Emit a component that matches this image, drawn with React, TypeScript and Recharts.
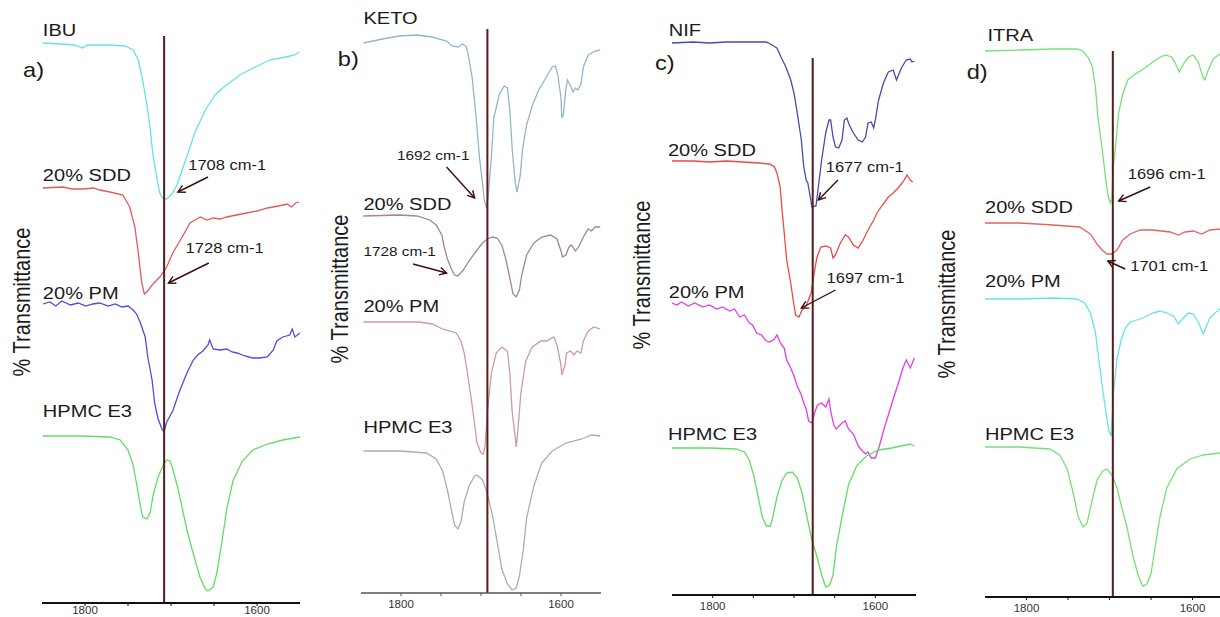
import React from "react";
import { LineChart, Line, XAxis, YAxis, ReferenceLine, ReferenceDot } from "recharts";

type Pt = [number, number];

const WAVE_DOMAIN: [number, number] = [1550, 1850];
const TICKS = [1800, 1750, 1700, 1650, 1600];
const TICK_LABELS = [1800, 1600];
const Y_TITLE = "% Transmittance";

// a) IBU
const ibuA: Pt[] = [
  [1849, 56.0], [1829, 55.9], [1812, 55.8], [1803, 55.5], [1797, 55.8], [1771, 55.8], [1753, 55.7],
  [1744, 55.3], [1738, 54.3], [1733, 52.3], [1728, 49.8], [1724, 47.3], [1721, 44.8], [1717, 42.8],
  [1713, 41.0], [1709, 40.4], [1705, 40.4], [1699, 40.9], [1693, 41.8], [1687, 43.3], [1681, 44.8],
  [1672, 47.1], [1660, 49.3], [1649, 50.8], [1637, 51.7], [1620, 52.8], [1602, 53.6], [1585, 54.3],
  [1567, 54.6], [1556, 54.8], [1551, 55.1],
];
const sddA: Pt[] = [
  [1849, 41.5], [1826, 41.6], [1815, 41.4], [1802, 41.4], [1790, 41.5], [1783, 41.3], [1771, 41.1],
  [1756, 40.8], [1748, 39.6], [1742, 37.6], [1738, 35.0], [1734, 32.0], [1731, 30.9], [1728, 31.1],
  [1722, 31.8], [1713, 32.6], [1705, 33.6], [1698, 35.0], [1687, 36.6], [1678, 38.0], [1666, 38.6],
  [1658, 38.3], [1651, 38.5], [1643, 38.4], [1635, 38.6], [1624, 38.8], [1612, 39.0], [1600, 39.2],
  [1588, 39.5], [1575, 39.7], [1565, 39.9], [1560, 39.6], [1555, 40.0], [1551, 40.1],
];
const pmA: Pt[] = [
  [1849, 29.9], [1841, 30.1], [1834, 29.7], [1827, 30.2], [1817, 29.8], [1808, 30.0], [1799, 29.7],
  [1791, 29.9], [1783, 30.0], [1773, 29.7], [1765, 29.9], [1757, 29.6], [1750, 29.7], [1744, 29.3],
  [1740, 28.9], [1736, 28.1], [1730, 26.6], [1727, 24.6], [1722, 22.3], [1719, 20.0], [1715, 18.4],
  [1710, 17.3], [1708, 17.1], [1705, 18.1], [1698, 19.2], [1690, 21.2], [1681, 23.1], [1674, 24.3],
  [1669, 24.8], [1663, 25.2], [1657, 25.8], [1655, 26.3], [1651, 25.4], [1643, 25.3], [1635, 25.4],
  [1629, 25.1], [1623, 25.0], [1614, 24.7], [1605, 24.5], [1597, 24.5], [1588, 24.6], [1581, 25.3],
  [1577, 26.2], [1570, 26.6], [1562, 26.8], [1559, 27.4], [1556, 26.6], [1550, 27.0],
];
const hpmcA: Pt[] = [
  [1849, 16.7], [1806, 16.7], [1771, 16.6], [1759, 16.3], [1750, 15.3], [1744, 13.8], [1740, 11.9],
  [1736, 9.9], [1733, 8.6], [1728, 8.4], [1724, 9.1], [1721, 10.7], [1715, 12.6], [1709, 13.8],
  [1705, 14.3], [1701, 14.2], [1698, 13.4], [1692, 11.5], [1686, 9.1], [1680, 6.8], [1674, 4.9],
  [1666, 2.5], [1660, 1.4], [1657, 1.2], [1651, 1.6], [1647, 2.9], [1641, 6.0], [1635, 9.5],
  [1628, 12.2], [1617, 14.2], [1605, 15.3], [1588, 15.9], [1570, 16.3], [1550, 16.6],
];

// b) KETO
const ketoB: Pt[] = [
  [1847, 55.0], [1823, 55.4], [1802, 55.7], [1780, 55.8], [1761, 55.6], [1743, 55.2], [1736, 54.7],
  [1729, 54.6], [1723, 54.9], [1718, 54.6], [1715, 53.4], [1711, 51.5], [1706, 47.5], [1702, 43.6],
  [1698, 40.9], [1696, 39.3], [1693, 38.5], [1691, 39.7], [1687, 43.6], [1684, 47.5], [1677, 49.9],
  [1671, 50.7], [1667, 50.5], [1664, 48.3], [1661, 44.4], [1657, 40.9], [1655, 40.1], [1651, 41.7],
  [1648, 44.4], [1643, 46.8], [1636, 48.7], [1628, 50.3], [1619, 51.5], [1611, 52.6], [1607, 52.7],
  [1604, 51.8], [1600, 49.5], [1599, 47.5], [1597, 47.9], [1594, 50.3], [1592, 51.3], [1588, 50.7],
  [1585, 50.1], [1582, 50.5], [1579, 50.3], [1575, 50.9], [1572, 52.6], [1566, 53.8], [1557, 54.2],
  [1551, 54.3],
];
const sddB: Pt[] = [
  [1847, 37.7], [1802, 37.8], [1780, 37.7], [1764, 37.3], [1756, 36.8], [1749, 35.8], [1746, 34.6],
  [1742, 33.4], [1737, 32.4], [1733, 31.8], [1729, 31.7], [1723, 32.2], [1715, 33.2], [1706, 34.2],
  [1698, 35.0], [1692, 35.4], [1686, 35.6], [1680, 35.5], [1674, 34.8], [1669, 33.4], [1664, 31.5],
  [1660, 29.9], [1656, 29.6], [1652, 30.3], [1649, 31.8], [1643, 33.8], [1634, 35.0], [1624, 35.6],
  [1613, 35.8], [1605, 35.4], [1600, 34.2], [1598, 33.6], [1594, 33.8], [1590, 34.6], [1587, 34.8],
  [1582, 34.2], [1578, 34.6], [1572, 35.6], [1566, 36.4], [1562, 36.2], [1557, 36.6], [1551, 36.6],
];
const pmB: Pt[] = [
  [1847, 27.1], [1802, 27.1], [1777, 27.1], [1761, 26.9], [1748, 26.4], [1739, 26.2], [1731, 26.0],
  [1725, 25.2], [1721, 24.0], [1717, 22.0], [1712, 19.3], [1708, 16.9], [1705, 15.0], [1700, 14.0],
  [1697, 13.9], [1695, 14.6], [1692, 18.1], [1687, 22.0], [1681, 24.0], [1674, 24.6], [1667, 24.2],
  [1664, 22.0], [1661, 18.1], [1657, 15.4], [1656, 14.6], [1654, 16.2], [1650, 20.1], [1644, 23.2],
  [1636, 24.6], [1625, 25.2], [1618, 25.2], [1609, 25.6], [1605, 24.8], [1600, 22.8], [1599, 21.8],
  [1595, 22.8], [1593, 24.0], [1588, 24.2], [1584, 23.8], [1580, 24.2], [1575, 24.0], [1572, 25.2],
  [1566, 26.2], [1559, 26.6], [1551, 26.4],
];
const hpmcB: Pt[] = [
  [1847, 14.2], [1802, 14.2], [1768, 14.0], [1756, 13.4], [1748, 12.2], [1742, 10.3], [1737, 8.3],
  [1733, 6.8], [1729, 6.4], [1725, 7.1], [1721, 9.1], [1715, 10.7], [1708, 11.7], [1705, 11.8],
  [1698, 11.3], [1692, 9.9], [1686, 7.9], [1680, 5.2], [1674, 2.4], [1667, 0.9], [1661, 0.3],
  [1656, 0.5], [1652, 1.7], [1647, 4.4], [1643, 7.5], [1634, 10.7], [1624, 13.0], [1611, 14.2],
  [1594, 15.0], [1574, 15.4], [1562, 15.8], [1551, 15.7],
];

// c) NIF
const nifC: Pt[] = [
  [1850, 55.2], [1824, 55.3], [1804, 55.2], [1783, 55.3], [1763, 55.3], [1734, 55.3], [1727, 55.0],
  [1721, 54.7], [1716, 53.8], [1710, 52.8], [1704, 51.5], [1700, 50.2], [1696, 48.2], [1691, 45.5],
  [1688, 42.8], [1685, 41.5], [1683, 41.2], [1680, 39.8], [1678, 38.8], [1673, 38.9], [1671, 40.2],
  [1666, 43.5], [1661, 46.2], [1657, 47.5], [1655, 47.5], [1652, 45.8], [1649, 44.8], [1645, 44.7],
  [1641, 45.5], [1638, 47.5], [1635, 47.7], [1632, 47.0], [1627, 46.2], [1621, 45.5], [1616, 45.3],
  [1612, 45.8], [1609, 47.2], [1605, 47.3], [1602, 46.7], [1600, 47.5], [1596, 49.5], [1590, 51.2],
  [1584, 52.3], [1578, 52.5], [1574, 51.5], [1568, 52.7], [1562, 53.5], [1557, 53.6], [1555, 53.3],
  [1552, 53.4],
];
const sddC: Pt[] = [
  [1850, 43.4], [1824, 43.4], [1804, 43.3], [1783, 43.4], [1763, 43.3], [1743, 43.2], [1730, 43.1],
  [1724, 42.8], [1721, 42.2], [1717, 40.8], [1715, 38.8], [1712, 36.2], [1709, 33.5], [1704, 31.2],
  [1701, 29.5], [1698, 28.0], [1694, 27.8], [1690, 28.5], [1685, 28.9], [1679, 30.2], [1676, 31.8],
  [1672, 33.7], [1667, 34.8], [1661, 34.9], [1655, 34.7], [1652, 33.7], [1649, 34.0], [1643, 35.2],
  [1637, 36.0], [1633, 35.8], [1627, 35.0], [1621, 34.7], [1615, 35.5], [1609, 36.5], [1602, 37.5],
  [1598, 38.2], [1593, 38.8], [1584, 39.8], [1578, 40.2], [1572, 40.7], [1566, 41.3], [1561, 42.0],
  [1557, 41.5], [1554, 41.3],
];
const pmC: Pt[] = [
  [1850, 29.2], [1844, 29.0], [1838, 29.3], [1830, 28.9], [1822, 29.2], [1812, 28.8], [1804, 29.0],
  [1795, 28.6], [1788, 28.8], [1779, 28.4], [1773, 28.6], [1767, 27.8], [1761, 28.0], [1755, 27.2],
  [1751, 27.0], [1746, 26.2], [1740, 26.0], [1734, 25.4], [1730, 25.3], [1724, 25.6], [1721, 26.0],
  [1716, 25.1], [1712, 24.7], [1709, 23.5], [1704, 22.7], [1700, 21.9], [1696, 20.9], [1691, 20.0],
  [1688, 19.2], [1685, 18.6], [1682, 17.4], [1678, 17.2], [1674, 18.4], [1671, 19.0], [1666, 19.2],
  [1661, 18.8], [1657, 19.6], [1655, 18.4], [1651, 17.0], [1648, 16.6], [1641, 17.2], [1637, 17.4],
  [1633, 16.6], [1627, 16.1], [1621, 14.9], [1617, 14.5], [1612, 14.1], [1609, 14.3], [1605, 13.7],
  [1600, 13.7], [1595, 14.9], [1590, 16.4], [1584, 18.0], [1578, 19.6], [1572, 21.1], [1566, 22.7],
  [1562, 23.5], [1557, 22.7], [1552, 23.7],
];
const hpmcC: Pt[] = [
  [1850, 14.7], [1804, 14.7], [1771, 14.6], [1761, 14.3], [1755, 13.5], [1749, 11.8], [1744, 9.8],
  [1739, 7.8], [1734, 6.9], [1729, 6.9], [1726, 7.8], [1721, 9.8], [1715, 11.4], [1709, 12.2],
  [1702, 12.3], [1696, 11.7], [1690, 10.2], [1684, 7.8], [1678, 5.5], [1672, 3.9], [1666, 2.0],
  [1661, 0.8], [1656, 1.0], [1652, 2.0], [1648, 4.7], [1641, 7.8], [1633, 11.0], [1623, 12.9],
  [1611, 13.9], [1596, 14.5], [1580, 14.7], [1568, 14.9], [1557, 15.1], [1552, 14.9],
];

// d) ITRA
const itraD: Pt[] = [
  [1850, 54.6], [1808, 54.7], [1768, 54.8], [1739, 54.8], [1732, 54.6], [1726, 54.0], [1721, 53.1],
  [1717, 51.1], [1714, 48.0], [1709, 44.9], [1705, 42.1], [1702, 40.2], [1699, 39.4], [1697, 39.8],
  [1696, 42.5], [1692, 45.6], [1689, 48.4], [1684, 50.3], [1678, 51.7], [1669, 52.3], [1661, 52.7],
  [1651, 53.3], [1643, 53.8], [1633, 54.2], [1625, 54.0], [1619, 53.1], [1616, 52.5], [1611, 53.3],
  [1605, 54.0], [1599, 54.2], [1593, 53.5], [1587, 51.9], [1585, 51.7], [1581, 52.7], [1575, 53.8],
  [1567, 54.3], [1560, 54.6],
];
const sddD: Pt[] = [
  [1850, 37.4], [1808, 37.4], [1768, 37.2], [1736, 37.0], [1723, 36.3], [1715, 35.3], [1709, 34.7],
  [1703, 34.3], [1697, 34.3], [1691, 34.7], [1684, 35.7], [1675, 36.3], [1663, 36.7], [1648, 36.7],
  [1627, 36.5], [1617, 36.2], [1609, 36.5], [1599, 36.6], [1589, 36.3], [1579, 36.7], [1567, 36.8],
  [1560, 36.9],
];
const pmD: Pt[] = [
  [1850, 29.8], [1808, 29.8], [1768, 29.9], [1739, 29.8], [1730, 29.4], [1723, 28.4], [1717, 26.5],
  [1713, 23.8], [1708, 20.6], [1704, 18.3], [1701, 16.7], [1698, 16.1], [1697, 17.5], [1695, 20.6],
  [1691, 23.8], [1686, 25.7], [1681, 26.9], [1675, 27.5], [1667, 27.7], [1660, 27.9], [1648, 28.4],
  [1639, 28.6], [1631, 28.4], [1623, 28.1], [1617, 27.3], [1611, 27.9], [1605, 28.4], [1599, 28.3],
  [1593, 27.5], [1587, 26.3], [1584, 26.9], [1579, 27.9], [1573, 28.4], [1567, 28.8], [1560, 29.0],
];
const hpmcD: Pt[] = [
  [1850, 15.0], [1808, 15.0], [1772, 14.8], [1760, 14.2], [1751, 12.8], [1744, 10.5], [1738, 8.1],
  [1732, 7.0], [1727, 7.4], [1722, 9.3], [1715, 11.7], [1708, 12.6], [1703, 12.8], [1697, 12.2],
  [1691, 10.9], [1685, 8.9], [1679, 7.0], [1672, 4.2], [1666, 2.3], [1660, 1.1], [1655, 1.3],
  [1650, 2.3], [1645, 5.0], [1639, 8.1], [1631, 10.9], [1619, 12.8], [1603, 13.8], [1587, 14.2],
  [1567, 14.4], [1560, 14.5],
];

const SERIES_NAMES = ["20% SDD", "20% PM", "HPMC E3"];
const DRUGS = ["IBU", "KETO", "NIF", "ITRA"];
const LETTERS = ["a)", "b)", "c)", "d)"];
const PEAKS = [1708, 1692, 1677, 1696];

const FONT = '"Liberation Sans", Arial, Helvetica, sans-serif';
const SX = 1.18;
const MARKER = "#5a1a1a";
const ARROW = "#3a0e0e";

type Note = { text: string; at: Pt; from: Pt; to: Pt; size?: number };
type Panel = {
  left: number;
  width: number;
  margin: { top: number; right: number; bottom: number; left: number };
  yMax: number;
  markerTop: number;
  axisColor: string;
  axisWidth: number;
  tickGap: number;
  lines: { data: Pt[]; color: string }[];
  labelAt: Pt[];
  letterAt: Pt;
  titleAt: Pt;
  notes: Note[];
};

const panels: Panel[] = [
  {
    left: 0, width: 320, margin: { top: 3, right: 20, bottom: 0, left: 42 }, yMax: 60, markerTop: 56.7,
    axisColor: "#111", axisWidth: 2, tickGap: 0,
    lines: [
      { data: ibuA, color: "#62e4e4" }, { data: sddA, color: "#e25a5a" },
      { data: pmA, color: "#4d4ddb" }, { data: hpmcA, color: "#62dd62" },
    ],
    labelAt: [[1849, 57.3], [1849, 42.8], [1849, 31.0], [1849, 19.2]],
    letterAt: [1872, 53.3], titleAt: [1873, 30.1],
    notes: [
      { text: "1708 cm-1", at: [1680, 43.8], from: [1657, 42.6], to: [1692, 41.1] },
      { text: "1728 cm-1", at: [1683, 35.5], from: [1656, 34.0], to: [1703, 32.0] },
    ],
  },
  {
    left: 320, width: 291, margin: { top: 3, right: 10, bottom: 10, left: 41 }, yMax: 59, markerTop: 56.4,
    axisColor: "#555", axisWidth: 1.5, tickGap: 4,
    lines: [
      { data: ketoB, color: "#92b6cc" }, { data: sddB, color: "#a3868f" },
      { data: pmB, color: "#cf9aa2" }, { data: hpmcB, color: "#a2b4a8" },
    ],
    labelAt: [[1847, 57.5], [1847, 38.9], [1847, 28.7], [1847, 16.6]],
    letterAt: [1879, 53.4], titleAt: [1876, 30.4],
    notes: [
      { text: "1692 cm-1", at: [1805, 43.8], from: [1743, 42.6], to: [1708, 39.5], size: 13 },
      { text: "1728 cm-1", at: [1847, 34.2], from: [1785, 32.9], to: [1743, 32.0], size: 13 },
    ],
  },
  {
    left: 620, width: 306, margin: { top: 5, right: 10, bottom: 8, left: 52 }, yMax: 59, markerTop: 53.7,
    axisColor: "#111", axisWidth: 2, tickGap: 4,
    lines: [
      { data: nifC, color: "#4a4aa8" }, { data: sddC, color: "#ee4848" },
      { data: pmC, color: "#e03ee6" }, { data: hpmcC, color: "#62dd62" },
    ],
    labelAt: [[1854, 56.5], [1855, 44.5], [1854, 30.3], [1855, 16.1]],
    letterAt: [1871, 53.2], titleAt: [1887, 32.0],
    notes: [
      { text: "1677 cm-1", at: [1661, 42.8], from: [1646, 41.5], to: [1670, 39.5] },
      { text: "1697 cm-1", at: [1660, 31.7], from: [1649, 30.5], to: [1691, 28.7] },
    ],
  },
  {
    left: 930, width: 314, margin: { top: 7, right: 10, bottom: 6, left: 55 }, yMax: 59, markerTop: 54.6,
    axisColor: "#111", axisWidth: 2, tickGap: 4,
    lines: [
      { data: itraD, color: "#78e078" }, { data: sddD, color: "#e06464" },
      { data: pmD, color: "#66e4e4" }, { data: hpmcD, color: "#78e078" },
    ],
    labelAt: [[1847, 56.2], [1850, 39.0], [1850, 31.6], [1850, 16.3]],
    letterAt: [1872, 52.5], titleAt: [1896, 29.3],
    notes: [
      { text: "1696 cm-1", at: [1678, 42.3], from: [1651, 41.0], to: [1689, 39.6] },
      { text: "1701 cm-1", at: [1675, 33.1], from: [1681, 32.8], to: [1702, 33.6] },
    ],
  },
];

function StretchText({ cx, cy, text, size, rotate }: any) {
  if (cx == null || cy == null) return null;
  const t = rotate
    ? `translate(${cx},${cy}) scale(${SX},1) rotate(-90)`
    : `translate(${cx},${cy}) scale(${SX},1)`;
  return (
    <text
      transform={t}
      fontFamily={FONT}
      fontSize={size}
      fill="#1a1a1a"
      textAnchor={rotate ? "middle" : "start"}
      dominantBaseline="central"
    >
      {text}
    </text>
  );
}

function ArrowShape(props: any) {
  const { x1, y1, x2, y2 } = props;
  if ([x1, y1, x2, y2].some((v) => v == null || Number.isNaN(v))) return null;
  const ang = Math.atan2(y2 - y1, x2 - x1);
  const len = 8;
  const spread = 0.5;
  const ax = x2 - len * Math.cos(ang - spread);
  const ay = y2 - len * Math.sin(ang - spread);
  const bx = x2 - len * Math.cos(ang + spread);
  const by = y2 - len * Math.sin(ang + spread);
  return (
    <g stroke={ARROW} strokeWidth={1.4} fill="none">
      <line x1={x1} y1={y1} x2={x2} y2={y2} />
      <path d={`M${ax},${ay}L${x2},${y2}L${bx},${by}`} />
    </g>
  );
}

const toRows = (pts: Pt[]) => pts.map(([w, t]) => ({ w, t }));

function Spectrum({ p, i }: { p: Panel; i: number }) {
  const names = [DRUGS[i], ...SERIES_NAMES];
  return (
    <div style={{ position: "absolute", left: p.left, top: 0 }}>
      <LineChart width={p.width} height={617} margin={p.margin}>
        <XAxis
          type="number"
          dataKey="w"
          domain={WAVE_DOMAIN}
          reversed
          allowDataOverflow
          ticks={TICKS}
          interval={0}
          tickSize={3}
          tickMargin={p.tickGap}
          height={14}
          tickFormatter={(v: number) => (TICK_LABELS.includes(v) ? String(v) : "")}
          axisLine={{ stroke: p.axisColor, strokeWidth: p.axisWidth }}
          tickLine={{ stroke: p.axisColor }}
          tick={{ fill: "#333", fontSize: 11.5, fontFamily: FONT }}
        />
        <YAxis hide type="number" domain={[0, p.yMax]} allowDataOverflow />
        {p.lines.map((l, k) => (
          <Line
            key={k}
            data={toRows(l.data)}
            dataKey="t"
            type="linear"
            stroke={l.color}
            strokeWidth={1.3}
            dot={false}
            activeDot={false}
            isAnimationActive={false}
          />
        ))}
        <ReferenceLine
          segment={[{ x: PEAKS[i], y: 0 }, { x: PEAKS[i], y: p.markerTop }]}
          stroke={MARKER}
          strokeWidth={2}
          ifOverflow="visible"
        />
        {p.notes.map((n, k) => (
          <ReferenceLine
            key={`a${k}`}
            segment={[{ x: n.from[0], y: n.from[1] }, { x: n.to[0], y: n.to[1] }]}
            ifOverflow="visible"
            shape={(sp: any) => <ArrowShape {...sp} />}
          />
        ))}
        {p.notes.map((n, k) => (
          <ReferenceDot
            key={`n${k}`}
            x={n.at[0]}
            y={n.at[1]}
            r={0}
            ifOverflow="visible"
            shape={(sp: any) => <StretchText cx={sp.cx} cy={sp.cy} text={n.text} size={n.size ?? 14} />}
          />
        ))}
        {p.labelAt.map((at, k) => (
          <ReferenceDot
            key={`l${k}`}
            x={at[0]}
            y={at[1]}
            r={0}
            ifOverflow="visible"
            shape={(sp: any) => <StretchText cx={sp.cx} cy={sp.cy} text={names[k]} size={17} />}
          />
        ))}
        <ReferenceDot
          x={p.letterAt[0]}
          y={p.letterAt[1]}
          r={0}
          ifOverflow="visible"
          shape={(sp: any) => <StretchText cx={sp.cx} cy={sp.cy} text={LETTERS[i]} size={20} />}
        />
        <ReferenceDot
          x={p.titleAt[0]}
          y={p.titleAt[1]}
          r={0}
          ifOverflow="visible"
          shape={(sp: any) => <StretchText cx={sp.cx} cy={sp.cy} text={Y_TITLE} size={20} rotate />}
        />
      </LineChart>
    </div>
  );
}

export default function App() {
  return (
    <div
      style={{
        position: "fixed",
        left: 0,
        top: 0,
        width: 1220,
        height: 617,
        overflow: "hidden",
        background: "#fff",
      }}
    >
      {panels.map((p, i) => (
        <Spectrum key={i} p={p} i={i} />
      ))}
    </div>
  );
}
